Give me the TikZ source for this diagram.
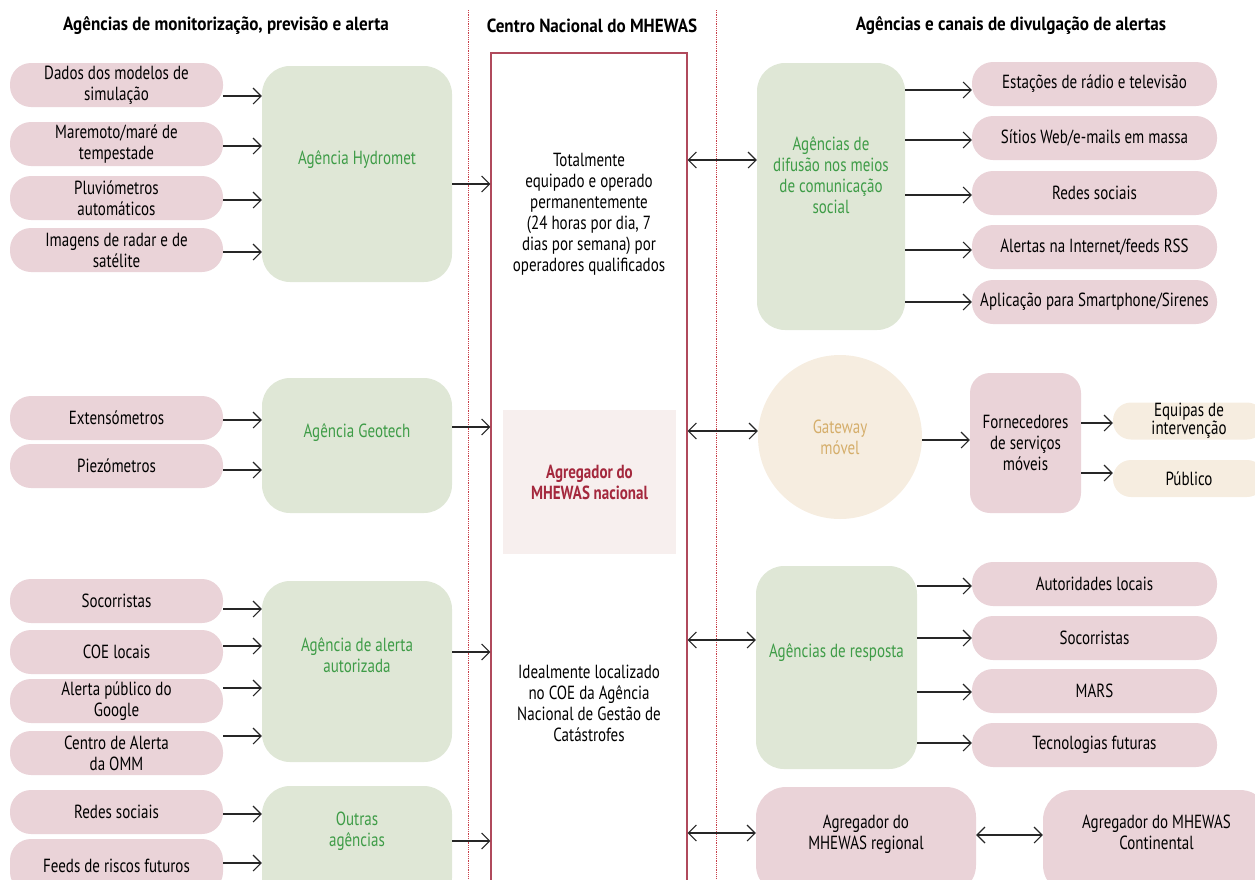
\documentclass[tikz,border=0pt]{standalone}
\usepackage{fontspec}
\setmainfont{PT Sans}[FakeStretch=0.79]
\newfontfamily\headfont{PT Sans}[FakeStretch=0.9]
\usepackage{xcolor}
\usepackage{tikz}
\usetikzlibrary{arrows.meta}

\definecolor{pinkfill}{HTML}{EAD3D8}
\definecolor{greenfill}{HTML}{DFE7D6}
\definecolor{greentext}{HTML}{3E9C47}
\definecolor{creamfill}{HTML}{F6EDE0}
\definecolor{goldtext}{HTML}{D5AE6B}
\definecolor{mhred}{HTML}{A4283D}
\definecolor{boxred}{HTML}{B04A5C}
\definecolor{innerfill}{HTML}{F7EFEE}
\definecolor{dotred}{HTML}{C8404A}

\newcommand{\txt}{\fontsize{19}{21}\selectfont}

\begin{document}
\begin{tikzpicture}[x=1pt, y=-1pt,
  every node/.style={font=\txt, align=center, inner sep=0pt},
  pill/.style={fill=pinkfill, rounded corners=21pt, minimum height=44pt},
  lpill/.style={pill, minimum width=213pt},
  rpill/.style={pill, minimum width=245pt},
  cpill/.style={fill=creamfill, rounded corners=18pt, minimum height=37pt, minimum width=152pt},
  agency/.style={fill=greenfill, rounded corners=28pt, minimum width=190pt},
  agtext/.style={text=greentext},
  head/.style={font=\txt\headfont\bfseries},
  arr/.style={-{Straight Barb[length=8pt,width=16pt]}, line width=1.1pt, black!85},
  bi/.style={{Straight Barb[length=8pt,width=16pt]}-{Straight Barb[length=8pt,width=16pt]}, line width=1.1pt, black!85},
  dotline/.style={dotred, densely dotted, line width=0.8pt}]
 \useasboundingbox (0,0) rectangle (1255,879);
 \clip (0,0) rectangle (1255,879);

 \node[head] (hmon) at (226,26) {Agências de monitorização, previsão e alerta};
 \node[head] (hcen) at (592,26) {Centro Nacional do MHEWAS};
 \node[head] (hdiv) at (1011,26) {Agências e canais de divulgação de alertas};
 \draw[dotline] (468,10) -- (468,879);
 \draw[dotline] (716,10) -- (716,879);

 \node[lpill] (dad) at (116.5,85) {Dados dos modelos de\\simulação};
 \node[lpill] (mar) at (116.5,144) {Maremoto/maré de\\tempestade};
 \node[lpill] (plu) at (116.5,198) {Pluviómetros\\automáticos};
 \node[lpill] (img) at (116.5,250) {Imagens de radar e de\\satélite};
 \node[agency, minimum height=216pt] (hyd) at (357,174) {};
 \node[agtext] (hydt) at (357,160) {Agência Hydromet};

 \node[lpill] (ext) at (116.5,418) {Extensómetros};
 \node[lpill] (pie) at (116.5,466) {Piezómetros};
 \node[agency, minimum height=135pt] (geo) at (357,445.5) {};
 \node[agtext] (geot) at (357,433) {Agência Geotech};

 \node[lpill] (soc) at (116.5,601) {Socorristas};
 \node[lpill] (coe) at (116.5,652) {COE locais};
 \node[lpill] (goo) at (116.5,701) {Alerta público do\\Google};
 \node[lpill] (omm) at (116.5,753) {Centro de Alerta\\da OMM};
 \node[agency, minimum height=181pt] (ale) at (357,671.5) {};
 \node[agtext] (alet) at (357,655) {Agência de alerta\\autorizada};

 \node[lpill] (red) at (116.5,812) {Redes sociais};
 \node[lpill, minimum height=54pt] (fee) at (116.5,866) {Feeds de riscos futuros};
 \node[agency, minimum height=120pt] (out) at (357,846) {};
 \node[agtext] (outt) at (357,831) {Outras\\agências};

 \node[draw=boxred, line width=1.3pt, minimum width=196pt, minimum height=847pt] (cen) at (589,476.5) {};
 \node (ten) at (589,214) {Totalmente\\equipado e operado\\permanentemente\\(24 horas por dia, 7\\dias por semana) por\\operadores qualificados};
 \node[fill=innerfill, minimum width=173pt, minimum height=144pt, text=mhred, font=\txt\bfseries] (agn) at (589.5,482) {Agregador do\\MHEWAS nacional};
 \node (ide) at (589,703) {Idealmente localizado\\no COE da Agência\\Nacional de Gestão de\\Catástrofes};

 \node[agency, minimum width=148pt, minimum height=267pt] (dif) at (831,196.5) {};
 \node[agtext] (dift) at (831,175) {Agências de\\difusão nos meios\\de comunicação\\social};
 \node[rpill] (est) at (1094.5,84) {Estações de rádio e televisão};
 \node[rpill] (sit) at (1094.5,138) {Sítios Web/e-mails em massa};
 \node[rpill] (rso) at (1094.5,193) {Redes sociais};
 \node[rpill] (ain) at (1094.5,247) {Alertas na Internet/feeds RSS};
 \node[rpill] (apl) at (1094.5,302) {Aplicação para Smartphone/Sirenes};

 \node[circle, fill=creamfill, minimum size=164pt, text=goldtext] (gw) at (840,437) {Gateway\\móvel};
 \node[fill=pinkfill, rounded corners=20pt, minimum width=111pt, minimum height=140pt] (for) at (1025.5,443) {Fornecedores\\de serviços\\móveis};
 \node[cpill, font=\fontsize{19}{17}\selectfont] (equ) at (1189,421) {Equipas de\\intervenção};
 \node[cpill] (pub) at (1189,478.5) {Público};

 \node[agency, minimum width=161pt, minimum height=203pt] (res) at (836.5,667.5) {};
 \node[agtext] (rest) at (836.5,653) {Agências de resposta};
 \node[rpill] (aut) at (1094.5,584) {Autoridades locais};
 \node[rpill] (rso2) at (1094.5,638) {Socorristas};
 \node[rpill] (mrs) at (1094.5,691) {MARS};
 \node[rpill] (tec) at (1094.5,745) {Tecnologias futuras};

 \node[fill=pinkfill, rounded corners=30pt, minimum width=220pt, minimum height=108pt] (reg) at (866,841) {};
 \node (regt) at (866,834) {Agregador do\\MHEWAS regional};
 \node[fill=pinkfill, rounded corners=30pt, minimum width=227pt, minimum height=105pt] (con) at (1156.5,842.5) {};
 \node (cont) at (1156.5,832) {Agregador do MHEWAS\\Continental};

 \draw[arr] (dad.east |- 0,96) -- (hyd.west |- 0,96);
 \draw[arr] (mar.east |- 0,146) -- (hyd.west |- 0,146);
 \draw[arr] (plu.east |- 0,200) -- (hyd.west |- 0,200);
 \draw[arr] (img.east |- 0,252) -- (hyd.west |- 0,252);
 \draw[arr] (ext.east |- 0,420) -- (geo.west |- 0,420);
 \draw[arr] (pie.east |- 0,470) -- (geo.west |- 0,470);
 \draw[arr] (soc.east |- 0,609) -- (ale.west |- 0,609);
 \draw[arr] (coe.east |- 0,646) -- (ale.west |- 0,646);
 \draw[arr] (goo.east |- 0,688) -- (ale.west |- 0,688);
 \draw[arr] (omm.east |- 0,736) -- (ale.west |- 0,736);
 \draw[arr] (red.east |- 0,814) -- (out.west |- 0,814);
 \draw[arr] (fee.east |- 0,863) -- (out.west |- 0,863);

 \draw[arr] (hyd.east |- 0,184) -- (cen.west |- 0,184);
 \draw[arr] (geo.east |- 0,427) -- (cen.west |- 0,427);
 \draw[arr] (ale.east |- 0,652) -- (cen.west |- 0,652);
 \draw[arr] (out.east |- 0,841) -- (cen.west |- 0,841);

 \draw[bi] (cen.east |- 0,160) -- (dif.west |- 0,160);
 \draw[bi] (cen.east |- 0,431) -- (gw.west |- 0,431);
 \draw[bi] (cen.east |- 0,640) -- (res.west |- 0,640);
 \draw[bi] (cen.east |- 0,833) -- (reg.west |- 0,833);

 \draw[arr] (dif.east |- 0,90) -- (est.west |- 0,90);
 \draw[arr] (dif.east |- 0,140) -- (sit.west |- 0,140);
 \draw[arr] (dif.east |- 0,195) -- (rso.west |- 0,195);
 \draw[arr] (dif.east |- 0,250) -- (ain.west |- 0,250);
 \draw[arr] (dif.east |- 0,302) -- (apl.west |- 0,302);

 \draw[arr] (gw.east |- 0,440) -- (for.west |- 0,440);
 \draw[arr] (for.east |- 0,423) -- (equ.west |- 0,423);
 \draw[arr] (for.east |- 0,473) -- (pub.west |- 0,473);

 \draw[arr] (res.east |- 0,586) -- (aut.west |- 0,586);
 \draw[arr] (res.east |- 0,638) -- (rso2.west |- 0,638);
 \draw[arr] (res.east |- 0,692) -- (mrs.west |- 0,692);
 \draw[arr] (res.east |- 0,743) -- (tec.west |- 0,743);

 \draw[bi] (reg.east |- 0,835) -- (con.west |- 0,835);
\end{tikzpicture}
\end{document}
